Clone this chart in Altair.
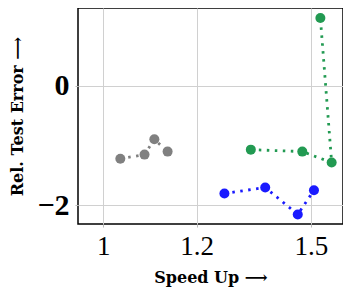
import altair as alt
import pandas as pd

series = ["gray", "gray", "gray", "gray",
          "green", "green", "green", "green",
          "blue", "blue", "blue", "blue"]
speedup = [1.034, 1.084, 1.105, 1.134,
           1.334, 1.475, 1.562, 1.528,
           1.267, 1.372, 1.462, 1.509]
rel_err = [-1.22, -1.15, -0.895, -1.10,
           -1.067, -1.10, -1.283, 1.133,
           -1.80, -1.70, -2.15, -1.745]
order = [0, 1, 2, 3, 0, 1, 2, 3, 0, 1, 2, 3]

colors_dom = ["gray", "green", "blue"]
colors_rng = ["#808080", "#229a52", "#1a1aff"]

df = pd.DataFrame({"series": series, "x": speedup, "y": rel_err, "o": order})

xs = alt.Scale(type="log", domain=[0.952, 1.597], nice=False, zero=False)
ys = alt.Scale(domain=[-2.31, 1.3], nice=False, zero=False)

X = alt.X("x:Q", scale=xs, title="Speed Up ⟶",
          axis=alt.Axis(values=[1, 1.2, 1.5], format="~g", labelFont="Liberation Serif",
                        labelFontSize=27, labelColor="black", labelPadding=6,
                        tickSize=3, tickColor="#bbbbbb", domain=False,
                        gridColor="#d0d0d0", gridWidth=1,
                        titleFont="DejaVu Serif", titleFontSize=16, titleFontWeight="bold",
                        titlePadding=10, titleColor="black"))
Y = alt.Y("y:Q", scale=ys, title="Rel. Test Error ⟶",
          axis=alt.Axis(values=[-2, 0], format="d", labelFont="Liberation Serif",
                        labelFontSize=30, labelFontWeight="bold", labelColor="black",
                        labelPadding=6, tickSize=3, tickColor="#bbbbbb", domain=False,
                        gridColor="#d0d0d0", gridWidth=1,
                        titleFont="DejaVu Serif", titleFontSize=16, titleFontWeight="bold",
                        titlePadding=11, titleColor="black"))
C = alt.Color("series:N", scale=alt.Scale(domain=colors_dom, range=colors_rng), legend=None)

base = alt.Chart(df)
lines = base.mark_line(strokeDash=[2.5, 5.5], strokeWidth=2.8).encode(
    x=X, y=Y, color=C, detail="series:N", order="o:Q")
pts = base.mark_circle(size=100, opacity=1).encode(x=X, y=Y, color=C)

chart = (lines + pts).properties(
    width=265, height=216,
    autosize=alt.AutoSizeParams(type="none"),
    padding={"left": 70, "top": 0, "right": 0, "bottom": 64},
).configure_view(stroke="black", strokeWidth=1.5)

chart.save("out.html", embed_options={"renderer": "svg", "actions": False})
